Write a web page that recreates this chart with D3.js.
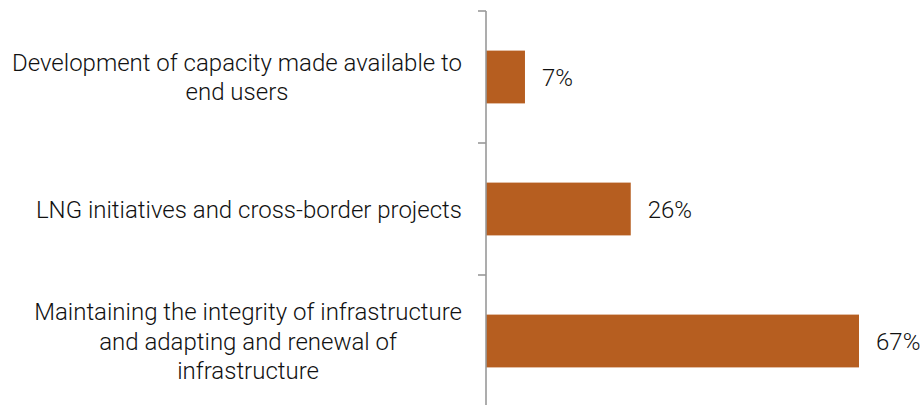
<!DOCTYPE html>
<html>
<head>
<meta charset="utf-8">
<script src="https://cdn.jsdelivr.net/npm/d3@7"></script>
<style>
  html, body { margin: 0; padding: 0; background: #fff; }
  svg { display: block; }
  text { font-family: Roboto, "Noto Sans", sans-serif; font-weight: 300; fill: #111; }
</style>
</head>
<body>
<svg id="chart" width="924" height="405"></svg>
<script>
// Category labels, one entry per bar; "\n" marks a line break
const categories = [
  "Development of capacity made available to\nend users",
  "LNG initiatives and cross-border projects",
  "Maintaining the integrity of infrastructure\nand adapting and renewal of\ninfrastructure"
];
const values = [7, 26, 67];
const valueLabels = ["7%", "26%", "67%"];

const W = 924, H = 405;
const axisX = 486;
const topY = 11, step = 132;
const fontSize = 24;
const labelRight = 462;
const lineH = 29.5;

const svg = d3.select("#chart");

const y = d3.scaleBand()
  .domain(categories)
  .range([topY, topY + step * categories.length])
  .paddingInner(0.6)
  .paddingOuter(0.3);

const x = d3.scaleLinear()
  .domain([0, 67])
  .range([axisX, 859]);

// bars
svg.append("g").selectAll("rect")
  .data(values)
  .join("rect")
  .attr("x", x(0))
  .attr("y", (d, i) => y(categories[i]))
  .attr("width", d => x(d) - x(0))
  .attr("height", y.bandwidth())
  .attr("fill", "#b65e20");

// value labels
svg.append("g").selectAll("text")
  .data(values)
  .join("text")
  .attr("x", d => x(d) + 17)
  .attr("y", (d, i) => y(categories[i]) + y.bandwidth() / 2)
  .attr("dy", "0.36em")
  .attr("font-size", fontSize)
  .text((d, i) => valueLabels[i]);

// category axis with outward ticks at band edges
const axisG = svg.append("g");
axisG.append("line")
  .attr("x1", axisX).attr("x2", axisX)
  .attr("y1", topY).attr("y2", H + 5)
  .attr("stroke", "#999").attr("stroke-width", 1.6);
const edges = d3.range(categories.length + 1).map(i => topY + i * step);
axisG.selectAll("line.tick")
  .data(edges)
  .join("line")
  .attr("class", "tick")
  .attr("x1", axisX - 8).attr("x2", axisX)
  .attr("y1", d => d).attr("y2", d => d)
  .attr("stroke", "#999").attr("stroke-width", 1.6);

// category labels: block right-aligned near the axis, lines centred within it
const measure = svg.append("text").attr("font-size", fontSize).attr("visibility", "hidden");
const textWidth = s => { measure.text(s); return measure.node().getComputedTextLength(); };
const labelG = svg.append("g");
categories.forEach(c => {
  const lines = c.split("\n");
  const blockW = d3.max(lines, textWidth);
  const cx = labelRight - blockW / 2;
  const cy = y(c) + y.bandwidth() / 2;
  const t = labelG.append("text")
    .attr("font-size", fontSize)
    .attr("text-anchor", "middle");
  lines.forEach((ln, j) => {
    t.append("tspan")
      .attr("x", cx)
      .attr("y", cy + (j - (lines.length - 1) / 2) * lineH)
      .attr("dy", "0.36em")
      .text(ln);
  });
});
measure.remove();
</script>
</body>
</html>
